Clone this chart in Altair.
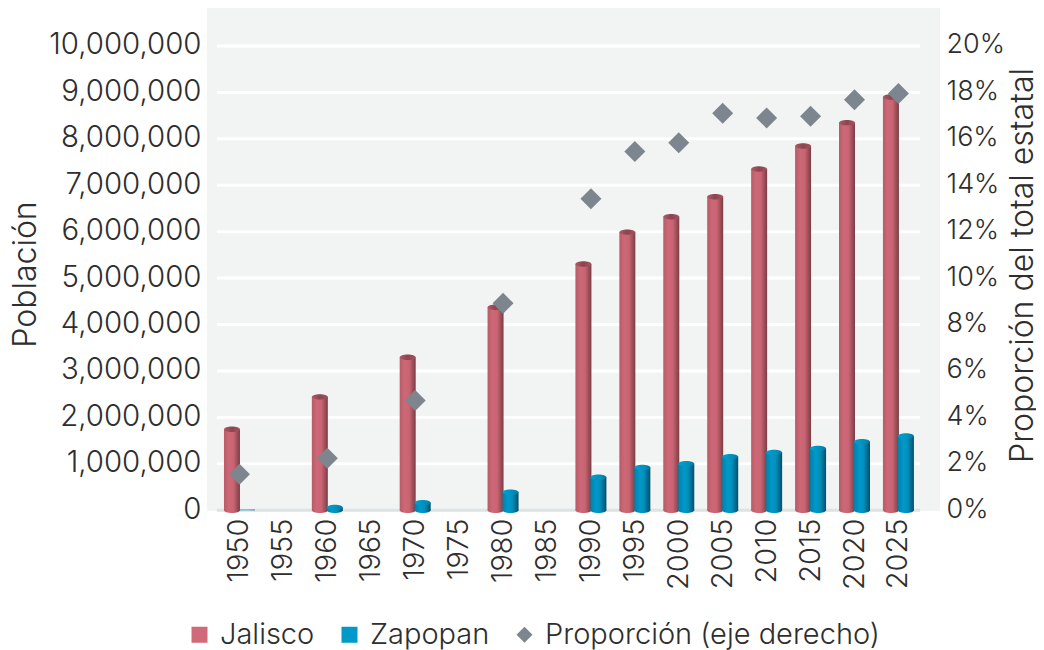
import altair as alt
import pandas as pd

years = [1950, 1955, 1960, 1965, 1970, 1975, 1980, 1985, 1990, 1995, 2000, 2005, 2010, 2015, 2020, 2025]
jalisco = [1746000, None, 2443000, None, 3297000, None, 4371000, None, 5303000, 5991000, 6322000, 6752000, 7351000, 7845000, 8348000, 8900000]
zapopan = [15000, None, 60000, None, 165000, None, 390000, None, 712000, 925000, 1001000, 1155000, 1243000, 1332000, 1476000, 1600000]
share = [1.55, None, 2.24, None, 4.73, None, 8.92, None, 13.42, 15.45, 15.83, 17.1, 16.9, 16.97, 17.68, 17.95]
left_ticks = [0, 1000000, 2000000, 3000000, 4000000, 5000000, 6000000, 7000000, 8000000, 9000000, 10000000]
right_ticks = [0, 2, 4, 6, 8, 10, 12, 14, 16, 18, 20]
series = ["Jalisco", "Zapopan", "Proporción (eje derecho)"]
series_colors = ["#d06a78", "#0099c9", "#7d868e"]
series_shapes = ["square", "square", "diamond"]
FONT = "Inter"
INK = "#2e2e2e"

df = pd.DataFrame({"year": years, "jalisco": jalisco, "zapopan": zapopan, "share": share}).dropna()
grid_df = pd.DataFrame({"v": left_ticks[1:]})
legend_df = pd.DataFrame({"year": [1950] * 3, "serie": series, "v": [0, 0, 0]})

X = alt.X("year:O", scale=alt.Scale(domain=years, paddingInner=0, paddingOuter=0, range=[10.5, 713.4]), title=None,
          axis=alt.Axis(labelAngle=270, labelFontSize=29, labelColor=INK, labelFont=FONT, labelFontWeight=300,
                        domain=False, ticks=False, labelPadding=7, grid=False, labelBaseline="middle", labelAlign="right"))
LEFT = alt.Scale(domain=[-15000, 10817000], nice=False, zero=False)
RIGHT = alt.Scale(domain=[-0.03, 21.634], nice=False, zero=False)
ELL = "M-1,0A1,0.34 0 1,1 1,0A1,0.34 0 1,1 -1,0Z"


def grad(stops):
    return alt.Gradient(gradient="linear", x1=0, x2=1, y1=0, y2=0,
                        stops=[alt.GradientStop(offset=o, color=c) for o, c in stops])


red = grad([(0, "#b85b68"), (0.3, "#cd6876"), (0.6, "#c96572"), (1, "#7a3d46")])
red_top = grad([(0, "#b05764"), (0.5, "#8a4550"), (1, "#a9525e")])
blue = grad([(0, "#0081ab"), (0.35, "#0099c9"), (0.6, "#0090bd"), (1, "#00506c")])
blue_top = grad([(0, "#00a0cf"), (0.6, "#0090bd"), (1, "#0079a0")])

grid = alt.Chart(grid_df).mark_rule(color="white", strokeWidth=3).encode(
    x=alt.value(10), x2=alt.value(713), y=alt.Y("v:Q", scale=LEFT, axis=None))
base = alt.Chart(pd.DataFrame({"v": [0]})).mark_rule(color="#dfe2e2", strokeWidth=3).encode(
    x=alt.value(10), x2=alt.value(713), y=alt.Y("v:Q", scale=LEFT, axis=None))


def cyl(field, fill, top, off):
    big = f"datum.{field} > 40000"
    b = alt.Chart(df).mark_bar(width=16, xOffset=off, fill=fill).encode(
        x=X, y=alt.Y(f"{field}:Q", scale=LEFT, axis=None), y2=alt.Y2("zero:Q")).transform_calculate(zero="0")
    foot = alt.Chart(df).transform_filter(big).transform_calculate(zero="0").mark_point(
        shape=ELL, filled=True, fill=fill, size=256, opacity=1, xOffset=off, strokeWidth=0).encode(
        x=X, y=alt.Y("zero:Q", scale=LEFT, axis=None))
    cap = alt.Chart(df).transform_filter(big).mark_point(
        shape=ELL, filled=True, fill=top, size=256, opacity=1, xOffset=off, strokeWidth=0).encode(
        x=X, y=alt.Y(f"{field}:Q", scale=LEFT, axis=None))
    return [foot, b, cap]


left_axis = alt.Chart(df).mark_point(opacity=0).encode(
    x=X,
    y=alt.Y("jalisco:Q", scale=LEFT, title="Población",
            axis=alt.Axis(values=left_ticks, format=",d", grid=False, domain=False, ticks=False,
                          labelFontSize=29.4, labelColor=INK, labelFont=FONT, labelFontWeight=300, labelPadding=6, labelOffset=-1,
                          titleFontSize=32, titleColor=INK, titleFont=FONT, titleFontWeight=300, titleX=-182, titleY=266,
                          titleBaseline="middle")))
right_axis = alt.Chart(df).mark_point(filled=True, shape="diamond", size=441, color="#7d868e", opacity=1).encode(
    x=X,
    y=alt.Y("share:Q", scale=RIGHT, title="Proporción del total estatal",
            axis=alt.Axis(orient="right", values=right_ticks, labelExpr="datum.value + '%'", grid=False, domain=False, ticks=False,
                          labelFontSize=27, labelColor=INK, labelFont=FONT, labelFontWeight=300, labelPadding=6, labelOffset=-1,
                          titleFontSize=32, titleColor=INK, titleFont=FONT, titleFontWeight=300, titleAngle=270,
                          titleBaseline="middle", titleX=82, titleY=257)))
legend_layer = alt.Chart(legend_df).mark_point(filled=True, size=0, opacity=1).encode(
    x=X, y=alt.Y("v:Q", scale=LEFT, axis=None),
    color=alt.Color("serie:N", scale=alt.Scale(domain=series, range=series_colors),
                    legend=alt.Legend(orient="none", legendX=-22, legendY=612, direction="horizontal", columns=3, title=None,
                                      symbolSize=256, symbolStrokeWidth=0, labelFontSize=29, labelColor=INK, labelLimit=500,
                                      labelFont=FONT, labelFontWeight=300, columnPadding=20, labelOffset=6)),
    shape=alt.Shape("serie:N", scale=alt.Scale(domain=series, range=series_shapes)))

chart = alt.layer(
    left_axis, grid, base,
    *cyl("jalisco", red, red_top, -7.5),
    *cyl("zapopan", blue, blue_top, 7.5),
    legend_layer, right_axis,
).resolve_scale(y="independent", color="independent", shape="independent").properties(
    width=733, height=503, padding={"left": 199, "top": 0, "right": 96, "bottom": 139},
    autosize=alt.AutoSizeParams(type="none")
).configure_view(fill="#f2f4f4", stroke=None)

chart.save("out.html", embed_options={"renderer": "svg", "actions": False})
